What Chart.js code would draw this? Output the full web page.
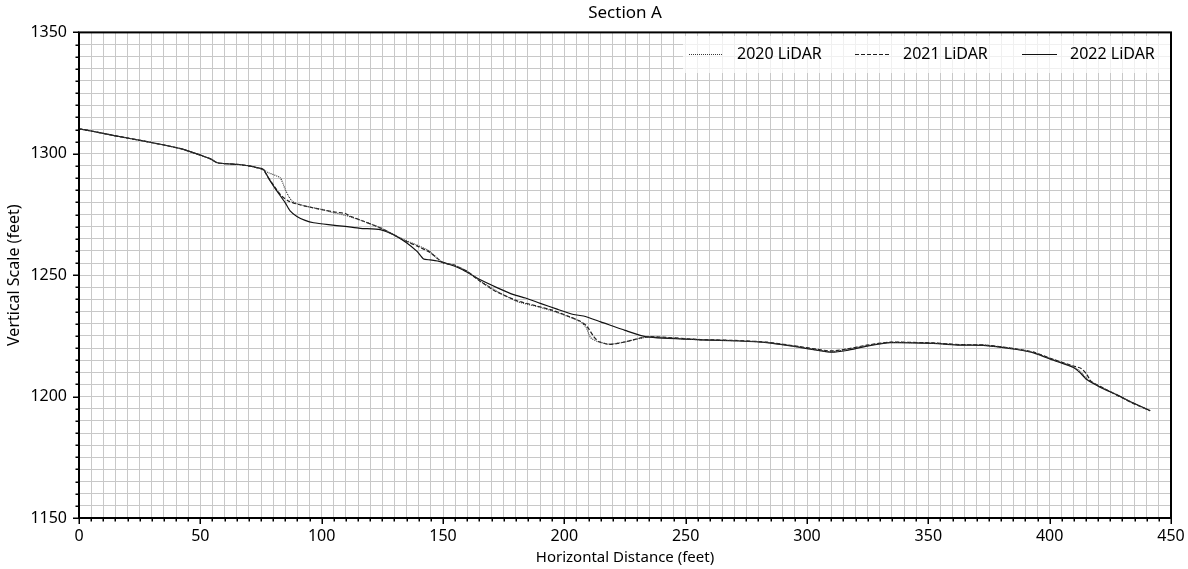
<!DOCTYPE html>
<html><head><meta charset="utf-8">
<script src="https://cdn.jsdelivr.net/npm/chart.js@4.4.1/dist/chart.umd.min.js"></script>
<style>html,body{margin:0;padding:0;background:#fff}#wrap{width:1188px;height:569px}</style>
</head><body><div id="wrap"><canvas id="c" width="1188" height="569"></canvas></div>
<script>
// ---- data ----
const seriesNames = ['2020 LiDAR', '2021 LiDAR', '2022 LiDAR'];
const xMajorTicks = [0, 50, 100, 150, 200, 250, 300, 350, 400, 450];
const yMajorTicks = [1150, 1200, 1250, 1300, 1350];

const commonDist = [0, 5, 14, 28, 42, 51, 54, 57, 61, 66, 70.6, 73.3];
const commonElev = [1310.3, 1309.4, 1307.6, 1305, 1302.1, 1299.1, 1298, 1296.3, 1295.9, 1295.6, 1294.9, 1294.3];

const dist2020 = [76, 78.1, 82.9, 85, 86.4, 87.8, 89.5, 94, 100, 104, 110, 117, 124, 128.3, 133.7, 139, 144, 147, 150, 154.4, 157, 160, 165.4, 172, 180.5, 188.7, 195, 201, 206.6, 209, 210.7, 213.4, 218.2, 222, 225.8, 230, 235, 256, 272, 283.5, 297, 309.6, 316.4, 324.7, 334.3, 352, 363, 372.7, 381, 386.5, 393.4, 401.6, 409.8, 412.6, 415.3, 420.8, 427.7, 434, 441.4];
const elev2020 = [1293.5, 1292.2, 1290.1, 1285.3, 1282.5, 1280.5, 1279.6, 1278.3, 1277.1, 1276, 1274.6, 1272.3, 1269.6, 1267.4, 1264.7, 1262.5, 1260.2, 1257.5, 1255.2, 1254.2, 1253.1, 1251.6, 1247.6, 1243.5, 1239.2, 1237.1, 1235.3, 1233.2, 1230.9, 1228.5, 1224.4, 1222.8, 1221.6, 1222, 1222.7, 1223.7, 1224.6, 1223.4, 1223, 1222.3, 1220.4, 1218.5, 1219.4, 1221, 1222.3, 1222, 1221.3, 1221.2, 1220.3, 1219.5, 1218.2, 1215.1, 1212.3, 1210.3, 1207.4, 1204, 1200.8, 1197.5, 1194.2];

const dist2021 = [76, 78.1, 80.9, 83.6, 86.4, 90.5, 95, 100.1, 105, 109.7, 111.8, 117.3, 124.1, 128.3, 133.7, 139.3, 144.7, 147.5, 150.2, 154.4, 157.1, 159.9, 165.4, 172, 180.5, 188.7, 195, 201.1, 206.6, 209.3, 212.1, 214.1, 218.2, 222, 225.8, 230, 235.4, 256, 272, 283.5, 297, 309.6, 316.4, 324.7, 334.3, 352, 363, 372.7, 381, 386.5, 393.4, 401.6, 409.8, 413, 415.3, 417, 420.8, 427.7, 434, 441.4];
const elev2021 = [1293.3, 1290.1, 1286, 1282.5, 1280.5, 1279.1, 1278.1, 1277, 1276.1, 1275.4, 1274.3, 1272.2, 1269.5, 1267.4, 1264.5, 1262, 1259.4, 1257.1, 1255, 1254.3, 1253, 1251.6, 1247.4, 1243.2, 1239.5, 1237.3, 1235.6, 1233.3, 1231, 1229, 1224.7, 1222.7, 1221.5, 1221.9, 1222.7, 1223.8, 1224.7, 1223.5, 1223.1, 1222.4, 1220.6, 1218.8, 1219.6, 1221.2, 1222.4, 1222.1, 1221.4, 1221.3, 1220.4, 1219.6, 1218.3, 1215.3, 1212.6, 1211.6, 1209.2, 1206.3, 1204.2, 1200.6, 1197.4, 1194.2];

const dist2022 = [76, 78.1, 80.2, 81.6, 85, 87, 89.8, 93.2, 96.7, 102.8, 109.7, 115.9, 124.1, 129.6, 135.1, 139.3, 142, 144.7, 148.9, 153, 157, 160, 165.4, 172, 179.1, 184, 190.1, 197, 203.8, 207.9, 215, 225, 234, 256, 272, 283.5, 297, 309.6, 316.4, 324.7, 334.3, 352, 363, 372.7, 381, 386.5, 393.4, 401.6, 409.8, 412.6, 415.3, 420.8, 427.7, 434, 441.4];
const elev2022 = [1293.6, 1290, 1286.7, 1284.6, 1279.8, 1276.5, 1274.2, 1272.6, 1271.6, 1270.8, 1270.1, 1269.3, 1268.8, 1266.7, 1263.3, 1259.8, 1256.7, 1256.3, 1255.6, 1254.3, 1252.8, 1251.2, 1248.1, 1245, 1242, 1240.6, 1238.4, 1236, 1233.8, 1233.2, 1230.8, 1227.3, 1224.6, 1223.4, 1222.9, 1222.2, 1220.3, 1218.3, 1219, 1220.8, 1222.2, 1221.9, 1221.2, 1221.1, 1220.2, 1219.4, 1218, 1215, 1212, 1209.8, 1207, 1203.9, 1200.7, 1197.6, 1194.2];

// ---- build ----
function pts(d, e) {
  const xs = commonDist.concat(d), ys = commonElev.concat(e);
  return xs.map((x, i) => ({x: x, y: ys[i]}));
}
const FONT = "'Noto Sans', 'Open Sans', sans-serif";
const styles = [
  {color: '#3a3a3a', dash: [1, 1], width: 1.2},
  {color: '#1e1e1e', dash: [4, 2], width: 1.2},
  {color: '#111111', dash: [], width: 1.2}
];
const allSeries = [[dist2020, elev2020], [dist2021, elev2021], [dist2022, elev2022]];
const datasets = allSeries.map((s, i) => ({
  label: seriesNames[i],
  data: pts(s[0], s[1]),
  borderColor: styles[i].color,
  borderDash: styles[i].dash,
  borderWidth: styles[i].width,
  pointRadius: 0,
  fill: false,
  tension: 0.2
}));

const framePlugin = {
  id: 'frame',
  afterDraw(chart) {
    const ctx = chart.ctx, a = chart.chartArea;
    const xs = chart.scales.x, ys = chart.scales.y;
    ctx.save();
    // legend
    ctx.fillStyle = 'rgba(255,255,255,0.72)';
    ctx.fillRect(683, 36, a.right - 683 - 1, 37);
    const items = [[689, 723, 737], [855, 890, 903], [1022, 1057, 1070]];
    const ly = 54;
    items.forEach((it, i) => {
      ctx.beginPath();
      ctx.setLineDash(styles[i].dash);
      ctx.strokeStyle = styles[i].color;
      ctx.lineWidth = 1;
      ctx.moveTo(it[0], ly + 0.5); ctx.lineTo(it[1], ly + 0.5);
      ctx.stroke();
      ctx.setLineDash([]);
      ctx.fillStyle = '#000';
      ctx.font = '16px ' + FONT;
      ctx.textBaseline = 'middle';
      ctx.textAlign = 'left';
      ctx.fillText(seriesNames[i], it[2], ly);
    });
    // frame
    ctx.strokeStyle = '#000';
    ctx.lineWidth = 2;
    ctx.strokeRect(a.left, a.top, a.right - a.left, a.bottom - a.top);
    // tick marks
    ctx.lineWidth = 1.5;
    ctx.beginPath();
    for (let v = 0; v <= 450; v += 5) {
      const px = Math.round(xs.getPixelForValue(v)) + 0.25;
      const len = xMajorTicks.includes(v) ? 6 : 3.5;
      ctx.moveTo(px, a.bottom); ctx.lineTo(px, a.bottom + len);
    }
    for (let v = 1150; v <= 1350; v += 5) {
      const py = Math.round(ys.getPixelForValue(v)) + 0.25;
      const len = yMajorTicks.includes(v) ? 6 : 3.5;
      ctx.moveTo(a.left, py); ctx.lineTo(a.left - len, py);
    }
    ctx.stroke();
    ctx.restore();
  }
};

new Chart(document.getElementById('c'), {
  type: 'line',
  data: {datasets: datasets},
  plugins: [framePlugin],
  options: {
    responsive: false,
    devicePixelRatio: 1,
    animation: false,
    layout: {padding: {left: 0, right: 17, top: 0, bottom: 0}},
    plugins: {
      legend: {display: false},
      tooltip: {enabled: false},
      title: {
        display: true, text: 'Section A', fullSize: false, color: '#000',
        font: {family: FONT, size: 17, weight: 'normal'},
        padding: {top: 3, bottom: 9}
      }
    },
    scales: {
      x: {
        type: 'linear', min: 0, max: 450,
        afterFit(s) { s.height = 51; s.paddingLeft = 0; s.paddingRight = 0; },
        grid: {color: '#c8c8c8', lineWidth: 1, drawTicks: false},
        border: {display: false},
        ticks: {
          stepSize: 5, autoSkip: false, maxRotation: 0, padding: 9, color: '#000',
          font: {family: FONT, size: 16},
          callback: v => xMajorTicks.includes(v) ? String(v) : ''
        },
        title: {display: true, text: 'Horizontal Distance (feet)', color: '#000',
          font: {family: FONT, size: 15}, padding: {top: 0, bottom: 2}}
      },
      y: {
        type: 'linear', min: 1150, max: 1350,
        afterFit(s) { s.width = 79; s.paddingTop = 0; s.paddingBottom = 0; },
        grid: {color: '#c8c8c8', lineWidth: 1, drawTicks: false},
        border: {display: false},
        ticks: {
          stepSize: 5, autoSkip: false, padding: 12, color: '#000',
          font: {family: FONT, size: 16},
          callback: v => yMajorTicks.includes(v) ? String(v) : ''
        },
        title: {display: true, text: 'Vertical Scale (feet)', color: '#000',
          font: {family: FONT, size: 16}, padding: {top: 5, bottom: 0}}
      }
    }
  }
});
</script>
</body></html>
